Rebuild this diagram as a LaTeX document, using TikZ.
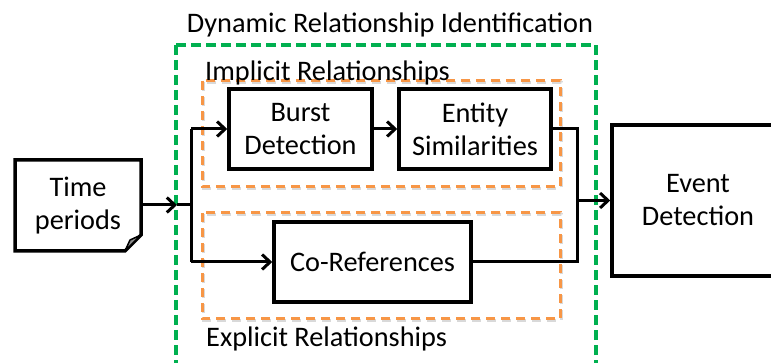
\documentclass[tikz,border=0pt]{standalone}
\usepackage{fontspec}
\setmainfont{Carlito}
\usetikzlibrary{arrows.meta}
\definecolor{grn}{HTML}{00B050}
\definecolor{org}{HTML}{F79646}
\tikzset{
  blk/.style={draw=black, line width=3.5pt, fill=white, inner sep=0pt, align=center,
    font=\fontsize{28.3}{33}\selectfont},
  lbl/.style={inner sep=0pt, font=\fontsize{28.3}{33}\selectfont},
  conn/.style={line width=3pt, line join=miter},
  arr/.style={conn, -{Straight Barb[length=8pt,width=15pt,line width=3pt]}},
  grnbox/.style={draw=grn, line width=3.5pt, dash pattern=on 10pt off 5pt},
  orgbox/.style={draw=org, line width=3pt, dash pattern=on 9pt off 6pt},
  shd/.style={draw=black!15, line width=3pt, dash pattern=on 9pt off 6pt},
}
\begin{document}
\begin{tikzpicture}[x=1pt,y=-1pt]
\useasboundingbox (0,0) rectangle (771,363);
\clip (0,0) rectangle (771,363);
\fill[white] (0,0) rectangle (771,363);
% green outer box
\draw[grnbox] (176,45) rectangle (596,380);
\node[lbl, anchor=base] (title) at (390,33) {Dynamic Relationship Identification};
% orange boxes with shadows
\draw[shd] (203,82.5) rectangle (561,188.5);
\draw[orgbox] (202,81) rectangle (560,187);
\draw[shd] (203,214.5) rectangle (561,320.5);
\draw[orgbox] (202,213) rectangle (560,319);
\node[lbl, anchor=base west] (impl) at (205,81) {Implicit Relationships};
\node[lbl, anchor=base west] (expl) at (206,346) {Explicit Relationships};
% time periods (folded corner)
\draw[line width=3.5pt, line join=miter, fill=white] (15,160) -- (141,160) -- (141,235) -- (125,251) -- (15,251) -- cycle;
\draw[line width=1.5pt, line join=round, fill=black!45] (141,235) -- (130,240) -- (125,251) -- cycle;
\node[lbl, align=center] (tp) at (78,206) {Time\\periods};
\coordinate (tpe) at (141,205);
% process boxes
\node[blk, minimum width=143pt, minimum height=80pt] (burst) at (300.5,129) {Burst\\Detection};
\node[blk, minimum width=152pt, minimum height=80pt] (ent) at (475,129) {Entity\\Similarities};
\node[blk, minimum width=197pt, minimum height=80pt] (coref) at (372.5,262) {Co-References};
\node[blk, minimum width=172pt, minimum height=151pt] (event) at (698,200.5) {Event\\Detection};
% connectors
\coordinate (g1) at (177,205);
\coordinate (j1) at (191,205);
\coordinate (jt) at (191,129);
\coordinate (jb) at (191,262);
\coordinate (rt) at (577,129);
\coordinate (rb) at (577,262);
\coordinate (rm) at (577,200.5);
\draw[arr] (tpe) -- (g1);
\draw[conn] (g1) -- (j1);
\draw[conn] (jt) -- (jb);
\draw[arr] (jt) -- (burst.west);
\draw[arr] (jb) -- (coref.west);
\draw[arr] (burst.east) -- (ent.west);
\draw[conn] (ent.east) -- (rt) -- (rb) -- (coref.east);
\draw[arr] (rm) -- (event.west);
\end{tikzpicture}
\end{document}
